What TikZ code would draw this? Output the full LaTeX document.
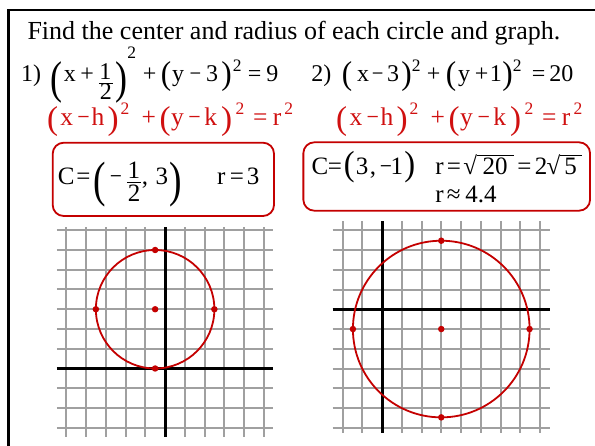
\documentclass[tikz,border=0pt]{standalone}
\usepackage{fontspec}
\setmainfont{Liberation Serif}
\usepackage{graphicx}
\definecolor{redtxt}{RGB}{208,16,16}
\definecolor{boxred}{RGB}{196,0,0}
\definecolor{circred}{RGB}{196,0,0}
\definecolor{gridgray}{RGB}{160,160,160}
% place content at absolute horizontal offset (pt) from node start
\newcommand\putat[2]{\rlap{\hspace*{#1pt}#2}}
% narrow minus sign
\newcommand\mn{\hspace*{0.3pt}\scalebox{0.86}[1]{−}}
% superscript raised by #1 pt
\newcommand\supr[2]{\raisebox{#1pt}{\fontsize{17.5}{18}\selectfont #2}}
% stretched parenthesis: [xscale]{top}{bottom}{glyph}
\newcommand\stretchp[4][1.3]{%
  \setbox0\hbox{#4}%
  \pgfmathsetmacro\spsc{(#2+#3)/(\the\ht0+\the\dp0)}%
  \pgfmathsetmacro\sprs{-#3+\spsc*\the\dp0}%
  \raisebox{\sprs pt}{\scalebox{#1}[\spsc]{\copy0}}}
% radical with overline: {content width}{content}
\newcommand\radx[2]{\setbox0\hbox{√}\setbox2\hbox to #1pt{\hss#2\hss}\copy0\kern-0.6pt\rlap{\raisebox{\dimexpr\ht0-0.9pt\relax}{\rule{\wd2}{0.9pt}}}\box2}
\newcommand\redeq{%
  \putat{0}{\stretchp{19}{11}{(}}%
  \putat{13.3}{x}%
  \putat{30}{\mn}%
  \putat{44.5}{h}%
  \putat{60.5}{\stretchp{19}{11}{)}}%
  \putat{73.5}{\supr{11}{2}}%
  \putat{94.5}{+}%
  \putat{112.5}{\stretchp{19}{11}{(}}%
  \putat{123.9}{y}%
  \putat{141}{\mn}%
  \putat{157.1}{k}%
  \putat{174}{\stretchp{19}{11}{)}}%
  \putat{188.5}{\supr{11}{2}}%
  \putat{206}{=}%
  \putat{225.7}{r}%
  \putat{237.3}{\supr{11}{2}}}
\begin{document}
\begin{tikzpicture}[x=1pt,y=-1pt,
  gridline/.style={draw=gridgray, line width=2pt},
  axisline/.style={draw=black, line width=3pt},
  circ/.style={draw=circred, line width=1.8pt},
  dot/.style={circle, fill=circred, inner sep=0pt, minimum size=6.5pt},
  redbox/.style={draw=boxred, line width=1.8pt, rounded corners=11pt, inner sep=0pt},
  txt/.style={anchor=base west, inner sep=0pt, outer sep=0pt},
  eqfont/.style={font=\fontsize{24}{28}\selectfont},
  boxfont/.style={font=\fontsize{25}{29}\selectfont}]
\useasboundingbox (0,0) rectangle (595,446);
\fill[white] (0,0) rectangle (595,446);
\draw[line width=2.6pt] (8.7,450) -- (8.7,10) -- (600,10);

% title
\node[txt, font=\fontsize{26}{30}\selectfont] (title) at (27.5,39.3) {Find the center and radius of each circle and graph.};

% equation 1
\node[txt, eqfont] (eqa) at (0,82) {%
  \putat{20.6}{1)}%
  \putat{50}{\stretchp[1.5]{20.3}{21.3}{(}}%
  \putat{63.5}{x}%
  \putat{79.8}{+}%
  \putat{99}{\raisebox{2pt}{1}}%
  \putat{99.3}{\raisebox{-18pt}{2}}%
  \putat{98.5}{\raisebox{-1.4pt}{\rule{14pt}{0.5pt}}}%
  \putat{115.5}{\stretchp[1.5]{20.3}{21.3}{)}}%
  \putat{126.8}{\supr{23.7}{2}}%
  \putat{142.3}{+}%
  \putat{160.5}{\stretchp{20.3}{9.7}{(}}%
  \putat{171.7}{y}%
  \putat{188.8}{\mn}%
  \putat{205.6}{3}%
  \putat{220.8}{\stretchp{20.3}{9.7}{)}}%
  \putat{232.5}{\supr{10}{2}}%
  \putat{247.3}{=}%
  \putat{266}{9}};

% equation 2
\node[txt, eqfont] (eqb) at (0,82) {%
  \putat{311}{2)}%
  \putat{341.5}{\stretchp{20.3}{9.7}{(}}%
  \putat{356.6}{x}%
  \putat{371}{\mn}%
  \putat{386.6}{3}%
  \putat{400.8}{\stretchp{20.3}{9.7}{)}}%
  \putat{411.5}{\supr{10}{2}}%
  \putat{426.3}{+}%
  \putat{445.5}{\stretchp{20.3}{9.7}{(}}%
  \putat{457.7}{y}%
  \putat{474.3}{+}%
  \putat{489.3}{1}%
  \putat{501.8}{\stretchp{20.3}{9.7}{)}}%
  \putat{512.5}{\supr{10}{2}}%
  \putat{531.3}{=}%
  \putat{549}{20}};

% standard forms
\node[txt, font=\fontsize{25.5}{30}\selectfont, text=redtxt] (stda) at (46.7,126) {\redeq};
\node[txt, font=\fontsize{25.5}{30}\selectfont, text=redtxt] (stdb) at (335.7,126) {\redeq};

% answer boxes
\node[redbox, minimum width=221.3pt, minimum height=73.3pt] (box1) at (163.35,179.35) {};
\node[redbox, minimum width=286.7pt, minimum height=68.4pt] (box2) at (446.7,176.5) {};

\node[txt, boxfont] (ansa) at (0,185) {%
  \putat{57.5}{C}%
  \putat{76}{=}%
  \putat{93.3}{\stretchp[1.5]{23.3}{21.7}{(}}%
  \putat{109}{\mn}%
  \putat{127.2}{\raisebox{6.7pt}{1}}%
  \putat{127.5}{\raisebox{-16.7pt}{2}}%
  \putat{127}{\raisebox{2.3pt}{\rule{14pt}{0.5pt}}}%
  \putat{141.5}{,}%
  \putat{155.2}{3}%
  \putat{168.8}{\stretchp[1.5]{23.3}{21.7}{)}}%
  \putat{216.6}{r}%
  \putat{229.3}{=}%
  \putat{246.5}{3}};

\node[txt, boxfont] (ansb) at (0,175) {%
  \putat{311.2}{C}%
  \putat{327.3}{=}%
  \putat{343.3}{\stretchp{23.3}{8.3}{(}}%
  \putat{355.5}{3}%
  \putat{369.3}{,}%
  \putat{379}{\mn}%
  \putat{390.2}{1}%
  \putat{403.8}{\stretchp{23.3}{8.3}{)}}%
  \putat{435}{r}%
  \putat{446.3}{=}%
  \putat{463}{\radx{37}{20}}%
  \putat{517}{=}%
  \putat{534.3}{2}%
  \putat{546}{\radx{22}{5}}};
\node[txt, boxfont] (ansc) at (0,203) {%
  \putat{435}{r}%
  \putat{446.5}{≈}%
  \putat{465}{4.4}};

% graph 1
\begin{scope}[shift={(165,368.5)}, x=19.75pt, y=19.75pt]
  \foreach \i in {-5,...,5} \draw[gridline] (\i,-3.45) -- (\i,7.18);
  \foreach \j in {-3,...,7} \draw[gridline] (-5.48,\j) -- (5.48,\j);
  \draw[axisline] (-5.48,0) -- (5.48,0);
  \draw[axisline] (0,-3.45) -- (0,7.18);
  \draw[circ] (-0.5,3) circle[radius=3];
  \node[dot] (ca) at (-0.5,3) {};
  \node[dot] (ta) at (-0.5,6) {};
  \node[dot] (ba) at (-0.5,0) {};
  \node[dot] (la) at (-3.5,3) {};
  \node[dot] (ra) at (2.5,3) {};
\end{scope}

% graph 2
\begin{scope}[shift={(382,309.3)}, x=19.75pt, y=19.75pt]
  \foreach \i in {-2,...,8} \draw[gridline] (\i,-6.25) -- (\i,4.47);
  \foreach \j in {-6,...,4} \draw[gridline] (-2.5,\j) -- (8.5,\j);
  \draw[axisline] (-2.5,0) -- (8.5,0);
  \draw[axisline] (0,-6.25) -- (0,4.47);
  \draw[circ] (3,-1) circle[radius=4.4721];
  \node[dot] (cb) at (3,-1) {};
  \node[dot] (tb) at (3,3.4721) {};
  \node[dot] (bb) at (3,-5.4721) {};
  \node[dot] (lb) at (-1.4721,-1) {};
  \node[dot] (rb) at (7.4721,-1) {};
\end{scope}
\end{tikzpicture}
\end{document}
